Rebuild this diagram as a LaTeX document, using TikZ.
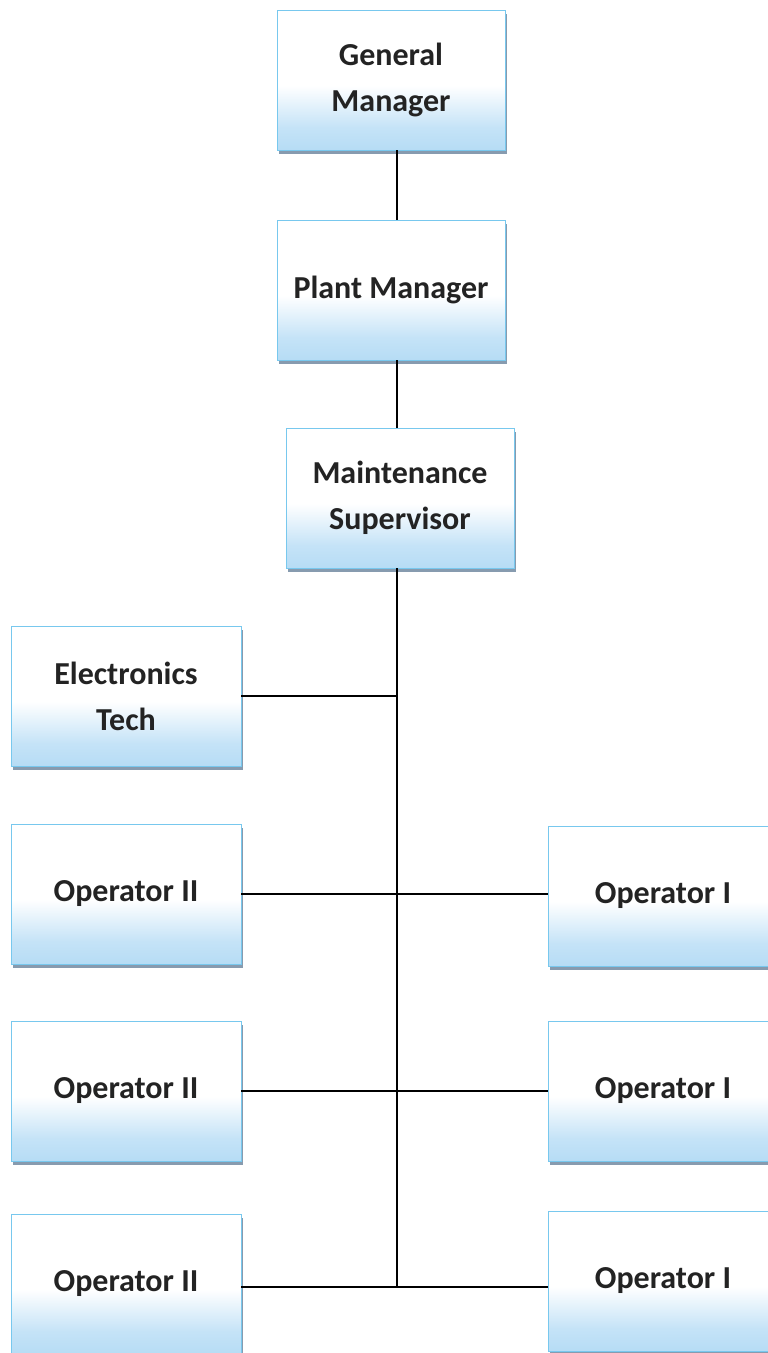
\documentclass[tikz,border=0pt]{standalone}
\usepackage{fontspec}
\setmainfont{Carlito}
\usetikzlibrary{shadows}
\definecolor{boxblue}{RGB}{182,220,245}
\definecolor{boxedge}{RGB}{120,200,238}
\definecolor{shadowc}{RGB}{135,155,175}
\definecolor{labeltext}{RGB}{35,35,35}
% white above, fading into light blue towards the bottom of each box
\pgfdeclareverticalshading{rolefade}{100bp}{color(0bp)=(boxblue); color(25bp)=(boxblue); color(33bp)=(boxblue!80!white); color(48bp)=(white); color(100bp)=(white)}
\tikzset{
  role/.style={rectangle, draw=boxedge, line width=0.9pt, shading=rolefade,
    minimum width=228pt, minimum height=140pt, inner sep=0pt,
    align=center, text=labeltext, font=\fontsize{32}{46}\selectfont\bfseries,
    drop shadow={shadow xshift=1.5pt, shadow yshift=-3.5pt, fill=shadowc, opacity=1}},
  link/.style={draw=black, line width=1.2pt}
}
\begin{document}
\begin{tikzpicture}[x=1pt, y=-1pt]
  \useasboundingbox (0,0) rectangle (768,1353);
  \clip (0,0) rectangle (768,1353);

  \node[role] (gm) at (391,80) {General\\Manager};
  \node[role] (pm) at (391,290) {Plant Manager};
  \node[role] (ms) at (400,498) {Maintenance\\Supervisor};
  \node[role, minimum width=230pt] (et) at (126,696) {Electronics\\Tech};

  \node[role, minimum width=230pt] (opa) at (126,894) {Operator II};
  \node[role, minimum width=230pt] (opb) at (126,1091) {Operator II};
  \node[role, minimum width=230pt] (opc) at (126,1284) {Operator II};

  \node[role, minimum width=230pt] (oia) at (663,896) {Operator I};
  \node[role, minimum width=230pt] (oib) at (663,1091) {Operator I};
  \node[role, minimum width=230pt] (oic) at (663,1281) {Operator I};

  % vertical reporting line
  \coordinate (spine) at (397,0);
  \coordinate (spineend) at (397,1287);
  \draw[link] (gm.south -| spine) -- (pm.north -| spine);
  \draw[link] (pm.south -| spine) -- (ms.north -| spine);
  \draw[link] (ms.south -| spine) -- (spineend);

  % branches
  \draw[link] (et.east) -- (et.east -| spine);
  \draw[link] (opa.east) -- (opa.east -| oia.west);
  \draw[link] (opb.east) -- (opb.east -| oib.west);
  \draw[link] (opc.east |- spineend) -- (spineend) -- (oic.west |- spineend);
\end{tikzpicture}
\end{document}
